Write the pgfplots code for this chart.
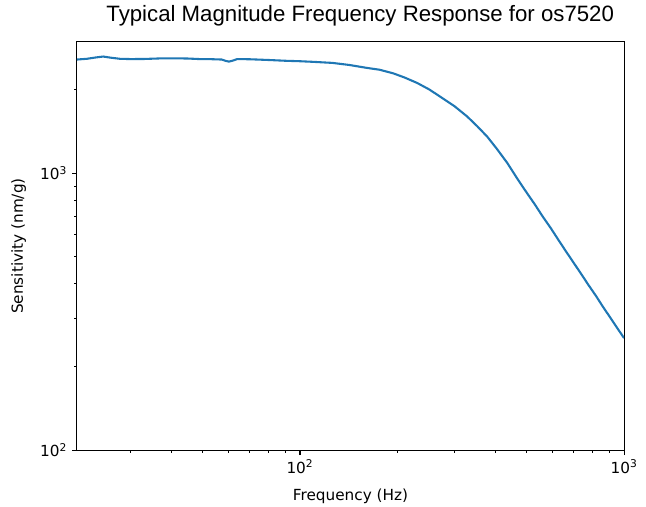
\documentclass[border=0pt]{standalone}
\usepackage{pgfplots}
\pgfplotsset{compat=1.18}
\usepackage{fontspec}
\setmainfont{DejaVu Sans}
\newfontfamily\titlefont{Liberation Sans}
\definecolor{mplblue}{HTML}{1F77B4}

\begin{document}
\begin{tikzpicture}
\begin{axis}[
    xmode=log, ymode=log,
    scale only axis,
    width=394pt, height=294pt,
    xmin=20.5, xmax=1000,
    ymin=100, ymax=2980,
    xtick={100,1000},
    ytick={100,1000},
    xticklabels={10\textsuperscript{2},10\textsuperscript{3}},
    yticklabels={10\textsuperscript{2},10\textsuperscript{3}},
    minor xtick={30,40,50,60,70,80,90,200,300,400,500,600,700,800,900},
    minor ytick={200,300,400,500,600,700,800,900,2000},
    tick pos=left,
    tick align=outside,
    major tick length=3.5pt,
    minor tick length=2pt,
    every tick/.style={black, line width=0.8pt},
    minor tick style={line width=0.6pt},
    axis line style={line width=0.8pt},
    tick label style={font=\fontsize{11}{13}\selectfont},
    xlabel={Frequency (Hz)},
    ylabel={Sensitivity (nm/g)},
    label style={font=\fontsize{11}{13}\selectfont},
    xlabel style={at={(axis description cs:0.5,0)}, anchor=north, yshift=-24pt},
    ylabel style={at={(axis description cs:-0.084,0.5)}, anchor=south},
    title={\titlefont Typical Magnitude Frequency Response for os7520},
    title style={font=\fontsize{16}{19}\selectfont, yshift=2pt, xshift=7pt},
]
\addplot[color=mplblue, line width=1.5pt] coordinates {
    (20.5,2574) (22,2590) (23.5,2620) (24.7,2639) (26,2615) (27.8,2590)
    (30,2584) (33,2586) (37,2598) (41,2600) (45,2596) (49,2584)
    (53,2582) (57.4,2574) (59,2545) (60.4,2530) (62,2550) (64,2584)
    (70,2580) (75,2572) (80.8,2563) (90,2548) (100,2538) (110,2525)
    (126,2503) (142,2460) (161,2401) (176,2365) (194,2295) (210,2218)
    (230,2118) (250,2010) (270,1895) (300,1745) (328,1603) (352,1480)
    (378,1357) (405,1225) (436,1090) (470,950) (500,853) (530,773)
    (560,700) (595,632) (630,570) (665,518) (700,474) (740,430)
    (780,392) (820,360) (860,330) (895,308) (930,288) (965,270)
    (1000,254)
};
\end{axis}
\pgfresetboundingbox
\path (current axis.south west) ++(-55.4pt,-40.3pt) rectangle ++(465.2pt,364.5pt);
\end{tikzpicture}
\end{document}
